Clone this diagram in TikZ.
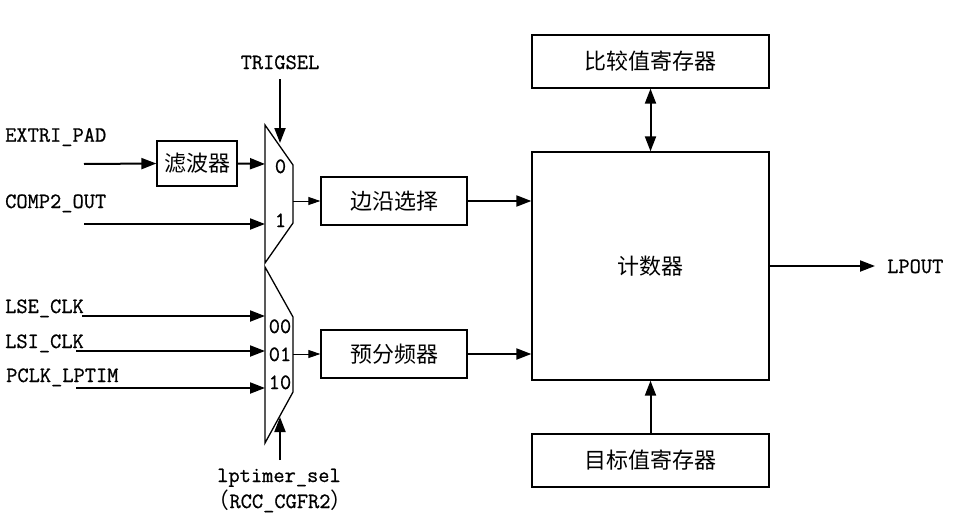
\documentclass[tikz,border=0pt]{standalone}
\usepackage{fontspec}
\newfontfamily\cjk{Noto Sans CJK SC}
\newfontfamily\labfont[FakeBold=0.8]{Latin Modern Mono}
\usetikzlibrary{arrows.meta}
\begin{document}
\begin{tikzpicture}[x=1pt,y=-1pt,
  lab/.style={font=\fontsize{21.8}{24}\selectfont\labfont, inner sep=0pt},
  box/.style={draw, line width=1.3pt, font=\fontsize{22}{24}\selectfont\cjk, inner sep=0pt},
  arr/.style={line width=2pt, -{Triangle[length=15pt,width=11pt]}},
  biarr/.style={line width=2pt, {Triangle[length=15pt,width=11pt]}-{Triangle[length=15pt,width=11pt]}},
  tarr/.style={line width=1pt, -{Triangle[length=12pt,width=8pt]}},
  mux/.style={line width=1.3pt},
]
\useasboundingbox (0,0) rectangle (957,527);

% boxes
\node[box, minimum width=80pt, minimum height=45pt] (filt) at (197,163.5) {滤波器};
\node[box, minimum width=146pt, minimum height=48pt] (edge) at (394,201) {边沿选择};
\node[box, minimum width=146pt, minimum height=48pt] (pre) at (394,354) {预分频器};
\node[box, minimum width=237pt, minimum height=228pt] (cnt) at (650.5,266) {计数器};
\node[box, minimum width=237pt, minimum height=53pt] (cmp) at (650.5,61.5) {比较值寄存器};
\node[box, minimum width=237pt, minimum height=53pt] (tgt) at (650.5,460.5) {目标值寄存器};

% muxes
\draw[mux] (265,125) -- (293,165) -- (293,223) -- (265,263) -- cycle;
\draw[mux] (265,267) -- (293,317) -- (293,392) -- (265,443) -- cycle;
\coordinate (m1in0) at (265,164);
\coordinate (m1in1) at (265,224);
\coordinate (m1sel) at (280,143);
\coordinate (m1out) at (293,201);
\coordinate (m2in00) at (265,316);
\coordinate (m2in01) at (265,351);
\coordinate (m2in10) at (265,388);
\coordinate (m2sel) at (280,417);
\coordinate (m2out) at (293,354);

% mux labels
\node[lab, anchor=base] (d0) at (280.5,173) {0};
\node[lab, anchor=base] (d1) at (280.5,227) {1};
\node[lab, anchor=base] (d00) at (280,333) {00};
\node[lab, anchor=base] (d01) at (280,361) {01};
\node[lab, anchor=base] (d10) at (280,389) {10};

% text labels
\node[lab, anchor=base west] (lextri) at (5,141.7) {EXTRI\_PAD};
\node[lab, anchor=base west] (lcomp) at (5,208) {COMP2\_OUT};
\node[lab, anchor=base west] (llse) at (5,313) {LSE\_CLK};
\node[lab, anchor=base west] (llsi) at (5,348) {LSI\_CLK};
\node[lab, anchor=base west] (lpclk) at (6,382) {PCLK\_LPTIM};
\node[lab, anchor=base] (ltrig) at (280,69) {TRIGSEL};
\node[lab, anchor=base west] (lpout) at (887,273) {LPOUT};
\node[lab, anchor=base] (lsel) at (279,482) {lptimer\_sel};
\node[lab, anchor=base] (lrcc) at (280,508) {{\cjk （}RCC\_CGFR2{\cjk ）}};

% start coordinates
\coordinate (sextri) at (84,164);
\coordinate (scomp) at (84,224);
\coordinate (slse) at (82,316);
\coordinate (slsi) at (76,351);
\coordinate (spclk) at (76,388);
\coordinate (strig) at (280,79);
\coordinate (ssel) at (280,460);
\coordinate (eout) at (875,266);

% connectors
\draw[arr] (sextri) -- (filt.west);
\draw[arr] (filt.east) -- (m1in0);
\draw[arr] (scomp) -- (m1in1);
\draw[arr] (strig) -- (m1sel);
\draw[tarr] (m1out) -- (edge.west);
\draw[arr] (edge.east) -- (edge.east -| cnt.west);

\draw[arr] (slse) -- (m2in00);
\draw[arr] (slsi) -- (m2in01);
\draw[arr] (spclk) -- (m2in10);
\draw[arr] (ssel) -- (m2sel);
\draw[tarr] (m2out) -- (pre.west);
\draw[arr] (pre.east) -- (pre.east -| cnt.west);

\draw[biarr] (cmp.south) -- (cnt.north);
\draw[arr] (tgt.north) -- (cnt.south);
\draw[arr] (cnt.east) -- (eout);
\end{tikzpicture}
\end{document}
